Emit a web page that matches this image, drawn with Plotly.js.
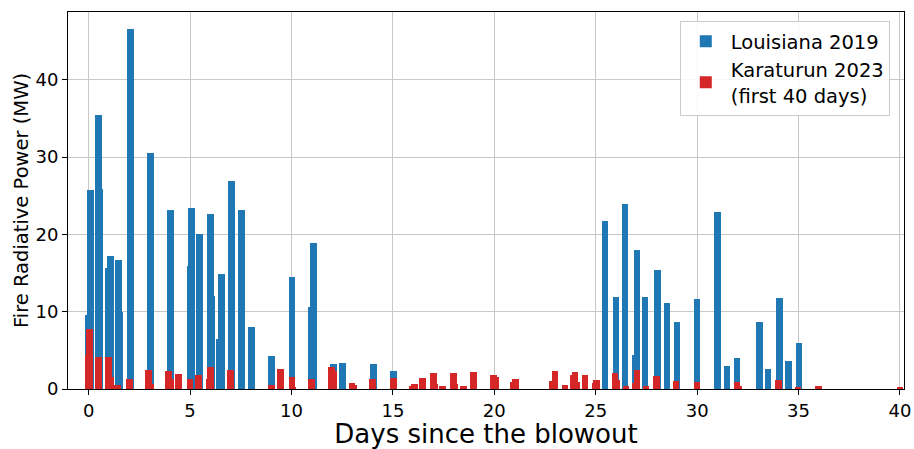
<!DOCTYPE html>
<html>
<head>
<meta charset="utf-8">
<script src="https://cdn.plot.ly/plotly-3.0.1.min.js"></script>
<style>html,body{margin:0;padding:0;background:#fff;}#chart{width:914px;height:449px;}</style>
</head>
<body>
<div id="chart"></div>
<script>
// Louisiana 2019 (blue)
const louisianaDays = [-0.02, 0.08, 0.53, 0.48, 0.97, 1.07, 1.53, 1.47, 2.06, 3.05, 4.04, 5.02, 5.07, 5.47, 6.06, 6.01, 6.46, 6.56, 7.05, 7.55, 8.04, 9.03, 10.02, 10.97, 11.07, 12.06, 12.5, 14.03, 15.02, 25.46, 26.0, 26.45, 26.95, 27.04, 27.43, 28.03, 28.52, 29.01, 30.0, 30.99, 31.48, 31.97, 33.06, 33.5, 34.05, 34.49, 35.03];
const louisianaFRP = [9.6, 25.75, 25.9, 35.4, 15.6, 17.2, 10.0, 16.7, 46.55, 30.5, 23.2, 15.9, 23.4, 20.0, 12.06, 22.65, 6.5, 14.9, 26.9, 23.2, 8.05, 4.3, 14.5, 10.65, 18.9, 3.28, 3.4, 3.28, 2.37, 21.77, 11.94, 23.97, 4.44, 18.0, 11.94, 15.43, 11.16, 8.7, 11.68, 22.9, 3.0, 4.05, 8.7, 2.63, 11.8, 3.66, 6.0];

// Karaturun 2023, first 40 days (red)
const karaturunDays = [-0.02, 0.05, 0.48, 0.97, 1.07, 1.42, 2.0, 2.95, 3.05, 3.94, 4.04, 4.43, 5.0, 5.42, 5.96, 6.01, 7.0, 9.03, 9.47, 10.02, 10.08, 11.0, 11.96, 12.06, 12.99, 13.05, 13.98, 15.02, 15.95, 16.05, 16.45, 16.99, 17.05, 17.43, 17.98, 18.03, 18.47, 18.96, 19.95, 20.05, 20.95, 21.05, 22.86, 22.99, 23.49, 23.9, 23.98, 24.04, 24.47, 24.96, 25.03, 25.95, 26.05, 26.5, 26.95, 27.04, 27.48, 28.01, 28.96, 30.0, 31.97, 32.05, 34.0, 34.98, 36.0, 40.0];
const karaturunFRP = [4.4, 7.7, 4.1, 4.2, 1.5, 0.56, 1.25, 2.5, 0.7, 2.3, 1.3, 2.0, 1.3, 1.75, 1.25, 2.9, 2.4, 0.5, 2.6, 1.6, 0.3, 1.34, 2.9, 2.37, 0.82, 0.56, 1.34, 1.47, 0.43, 0.69, 1.47, 2.1, 0.69, 0.43, 2.1, 0.69, 0.43, 2.24, 1.85, 1.6, 0.95, 1.34, 1.08, 2.37, 0.56, 1.85, 2.24, 0.95, 1.85, 0.82, 1.2, 2.1, 1.2, 0.43, 0.82, 2.5, 0.43, 1.72, 1.08, 0.95, 0.95, 0.43, 1.2, 0.3, 0.43, 0.3];

const seriesNames = ["Louisiana 2019", "Karaturun 2023<br>(first 40 days)"];
const xTicks = [0, 5, 10, 15, 20, 25, 30, 35, 40];
const yTicks = [0, 10, 20, 30, 40];

const font = "DejaVu Sans, sans-serif";
const traces = [
  {type: "bar", x: louisianaDays, y: louisianaFRP, width: 0.33, name: seriesNames[0],
   marker: {color: "#1f77b4", line: {width: 0}}},
  {type: "bar", x: karaturunDays, y: karaturunFRP, width: 0.33, name: seriesNames[1],
   marker: {color: "#d62728", line: {width: 0}}}
];
const layout = {
  width: 914, height: 449,
  margin: {l: 68, r: 10, t: 12, b: 60},
  paper_bgcolor: "#fff", plot_bgcolor: "#fff",
  barmode: "overlay", bargap: 0,
  font: {family: font, color: "#000", size: 18},
  xaxis: {range: [-1.02, 40.2], tickvals: xTicks, ticktext: xTicks.map(String),
    showgrid: true, gridcolor: "#c8c8c8", gridwidth: 1, zeroline: false,
    showline: true, mirror: true, linecolor: "#000", linewidth: 1,
    ticks: "outside", ticklen: 5, tickcolor: "#000", tickfont: {size: 18, family: font},
    title: {text: "Days since the blowout", font: {size: 26, family: font}, standoff: 3}},
  yaxis: {range: [0, 48.75], tickvals: yTicks, ticktext: yTicks.map(String),
    showgrid: true, gridcolor: "#c8c8c8", gridwidth: 1, zeroline: false,
    showline: true, mirror: true, linecolor: "#000", linewidth: 1,
    ticks: "outside", ticklen: 5, tickcolor: "#000", tickfont: {size: 18, family: font},
    title: {text: "Fire Radiative Power (MW)", font: {size: 19.5, family: font}, standoff: 1}},
  legend: {x: 0.983, y: 0.976, xanchor: "right", yanchor: "top",
    bgcolor: "rgba(255,255,255,0.85)", bordercolor: "#cccccc", borderwidth: 1,
    font: {size: 19.5, family: font}, itemwidth: 40, tracegroupgap: 4},
  showlegend: true
};
Plotly.newPlot("chart", traces, layout, {staticPlot: true, displayModeBar: false});
</script>
</body>
</html>
